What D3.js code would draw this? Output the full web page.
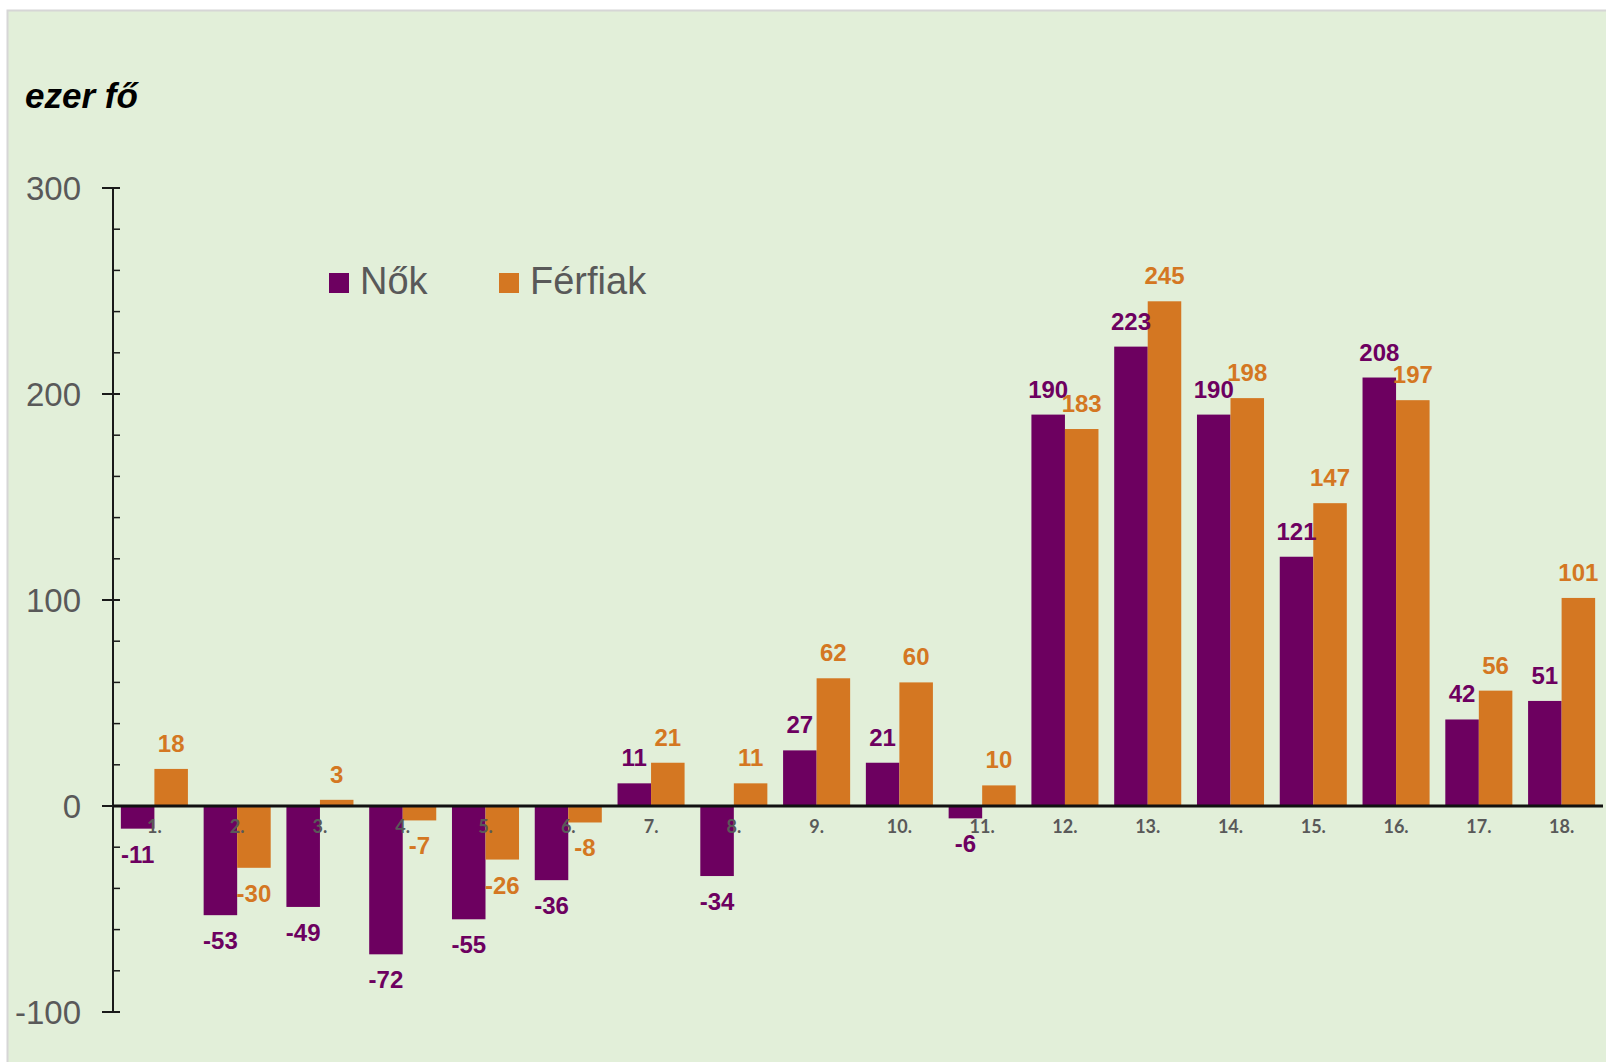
<!DOCTYPE html>
<html>
<head>
<meta charset="utf-8">
<script src="https://cdn.jsdelivr.net/npm/d3@7"></script>
<style>
  body { margin: 0; background: #ffffff; }
  svg { display: block; }
</style>
</head>
<body>
<div class="graph"></div>
<script>
// data
var categories = ["1.", "2.", "3.", "4.", "5.", "6.", "7.", "8.", "9.", "10.", "11.", "12.", "13.", "14.", "15.", "16.", "17.", "18."];
var nok = [-11, -53, -49, -72, -55, -36, 11, -34, 27, 21, -6, 190, 223, 190, 121, 208, 42, 51];
var ferfiak = [18, -30, 3, -7, -26, -8, 21, 11, 62, 60, 10, 183, 245, 198, 147, 197, 56, 101];
var seriesNames = ["Nők", "Férfiak"];
var yTicks = [-100, 0, 100, 200, 300];

var colors = ["#6d0060", "#d47722"];

var width = 1606, height = 1062;

var svg = d3.select(".graph").append("svg")
    .attr("width", width)
    .attr("height", height);

// chart area
svg.append("rect")
    .attr("x", 7.5).attr("y", 10.5)
    .attr("width", 1640).attr("height", 1100)
    .attr("fill", "#e2efd9")
    .attr("stroke", "#d6d6d6")
    .attr("stroke-width", 2);

var x = d3.scaleBand()
    .domain(categories)
    .range([113, 1603])
    .paddingInner(0.19)
    .paddingOuter(0.095);

var xSub = d3.scaleBand()
    .domain(seriesNames)
    .range([0, x.bandwidth()]);

var y = d3.scaleLinear()
    .domain([-100, 300])
    .range([1012, 188]);

var rows = categories.map(function(c, i) {
  return {cat: c, values: [nok[i], ferfiak[i]]};
});

// bars
var groups = svg.append("g").selectAll("g")
    .data(rows)
    .join("g")
    .attr("transform", function(d) { return "translate(" + x(d.cat) + ",0)"; });

groups.selectAll("rect")
    .data(function(d) { return d.values.map(function(v, j) { return {v: v, j: j}; }); })
    .join("rect")
    .attr("x", function(d) { return xSub(seriesNames[d.j]); })
    .attr("width", xSub.bandwidth())
    .attr("y", function(d) { return y(Math.max(0, d.v)); })
    .attr("height", function(d) { return Math.abs(y(d.v) - y(0)); })
    .attr("fill", function(d) { return colors[d.j]; });

// y axis with minor ticks
var yAxis = svg.append("g")
    .attr("transform", "translate(113,0)");

yAxis.append("line")
    .attr("y1", y(300)).attr("y2", y(-100))
    .attr("stroke", "#1a1a1a").attr("stroke-width", 2);

yAxis.selectAll("line.minor")
    .data(d3.range(-100, 301, 20))
    .join("line")
    .attr("class", "minor")
    .attr("x1", 0).attr("x2", 7)
    .attr("y1", function(d) { return y(d); })
    .attr("y2", function(d) { return y(d); })
    .attr("stroke", "#1a1a1a").attr("stroke-width", 1.5);

yAxis.selectAll("line.major")
    .data(yTicks)
    .join("line")
    .attr("class", "major")
    .attr("x1", -11).attr("x2", 7)
    .attr("y1", function(d) { return y(d); })
    .attr("y2", function(d) { return y(d); })
    .attr("stroke", "#1a1a1a").attr("stroke-width", 2);

yAxis.selectAll("text")
    .data(yTicks)
    .join("text")
    .attr("x", -32)
    .attr("y", function(d) { return y(d); })
    .attr("dy", "0.35em")
    .attr("text-anchor", "end")
    .attr("font-family", "Liberation Sans, Arial, sans-serif")
    .attr("font-size", 33)
    .attr("fill", "#595959")
    .text(function(d) { return d; });

// zero line
svg.append("line")
    .attr("x1", 113).attr("x2", 1603)
    .attr("y1", y(0)).attr("y2", y(0))
    .attr("stroke", "#111").attr("stroke-width", 3);

// category labels
svg.append("g").selectAll("text")
    .data(categories)
    .join("text")
    .attr("x", function(d) { return x(d) + x.bandwidth() / 2; })
    .attr("y", y(0) + 27)
    .attr("text-anchor", "middle")
    .attr("font-family", "Lato, sans-serif")
    .attr("font-weight", "bold")
    .attr("font-size", 18)
    .attr("fill", "#595959")
    .text(function(d) { return d; });

// data labels
groups.selectAll("text")
    .data(function(d) { return d.values.map(function(v, j) { return {v: v, j: j}; }); })
    .join("text")
    .attr("x", function(d) { return xSub(seriesNames[d.j]) + xSub.bandwidth() / 2; })
    .attr("y", function(d) { return d.v >= 0 ? y(d.v) - 17 : y(d.v) + 34; })
    .attr("text-anchor", "middle")
    .attr("font-family", "Liberation Sans, Arial, sans-serif")
    .attr("font-weight", "bold")
    .attr("font-size", 24)
    .attr("fill", function(d) { return colors[d.j]; })
    .text(function(d) { return d.v; });

// unit title
svg.append("text")
    .attr("x", 25).attr("y", 108)
    .attr("font-family", "Liberation Sans, Arial, sans-serif")
    .attr("font-weight", "bold")
    .attr("font-style", "italic")
    .attr("font-size", 35)
    .attr("fill", "#000")
    .text("ezer fő");

// legend
var legendX = [329, 499];
var legend = svg.append("g").selectAll("g")
    .data(seriesNames)
    .join("g")
    .attr("transform", function(d, i) { return "translate(" + legendX[i] + ",273)"; });

legend.append("rect")
    .attr("width", 20).attr("height", 20)
    .attr("fill", function(d, i) { return colors[i]; });

legend.append("text")
    .attr("x", 31).attr("y", 21)
    .attr("font-family", "Liberation Sans, Arial, sans-serif")
    .attr("font-size", 38)
    .attr("fill", "#595959")
    .text(function(d) { return d; });
</script>
</body>
</html>
